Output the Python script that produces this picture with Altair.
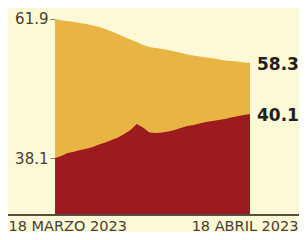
import altair as alt
import pandas as pd

# ---- data ----
dates = pd.date_range("2023-03-18", "2023-04-18", freq="D").strftime("%Y-%m-%dT00:00:00").tolist()

upper_series = [61.9, 61.78, 61.74, 61.65, 61.57, 61.49, 61.37, 61.24, 61.08, 60.87,
                60.67, 60.42, 60.22, 60.01, 59.77, 59.6, 59.52, 59.44, 59.36, 59.24,
                59.12, 58.99, 58.91, 58.83, 58.75, 58.67, 58.59, 58.5, 58.46, 58.42,
                58.33, 58.3]
lower_series = [38.1, 38.19, 38.33, 38.38, 38.46, 38.52, 38.6, 38.71, 38.8, 38.92,
                39.03, 39.19, 39.37, 39.65, 39.49, 39.26, 39.24, 39.26, 39.3, 39.37,
                39.46, 39.55, 39.6, 39.67, 39.74, 39.78, 39.83, 39.87, 39.94, 40.0,
                40.05, 40.1]

upper_ticks = [61.9]
lower_ticks = [38.1]
month_names = ["ENERO", "FEBRERO", "MARZO", "ABRIL", "MAYO", "JUNIO", "JULIO",
               "AGOSTO", "SEPTIEMBRE", "OCTUBRE", "NOVIEMBRE", "DICIEMBRE"]

df = pd.DataFrame({"date": dates, "upper": upper_series, "lower": lower_series})
last = df.iloc[[-1]]

FONT = "DejaVu Sans"
TXT = "#4a3c35"
YELLOW = "#e8b545"
RED = "#9c1b1f"
BG = "#fcf9d6"

month_js = "[" + ",".join("'" + m + "'" for m in month_names) + "]"
x_enc = alt.X(
    "date:T",
    title=None,
    axis=alt.Axis(
        values=[alt.DateTime(year=2023, month=3, date=18), alt.DateTime(year=2023, month=4, date=18)],
        labelExpr="date(datum.value) + ' ' + " + month_js + "[month(datum.value)] + ' ' + year(datum.value)",
        domain=False, ticks=False, tickSize=0, grid=False,
        labelFont=FONT, labelFontSize=14.5, labelColor=TXT,
        labelPadding=4, labelFlush=False,
        labelAlign={"condition": {"test": "datum.index < 0.5", "value": "left"}, "value": "right"},
        labelOffset={"condition": {"test": "datum.index < 0.5", "value": -47}, "value": 48},
    ),
)

def yaxis(vals):
    return alt.Axis(values=vals, format=".1f", title=None, domain=False, grid=False, orient="left",
                    tickSize=5, tickColor="#8a7d70", labelPadding=2, labelFlush=False,
                    labelFont=FONT, labelFontSize=15, labelColor=TXT)

base = alt.Chart(df)

up_area = base.mark_area(color=YELLOW, clip=True).encode(
    x=x_enc,
    y=alt.Y("upper:Q", scale=alt.Scale(domain=[45.83, 62.06], nice=False, zero=False), axis=yaxis(upper_ticks)),
)
up_text = alt.Chart(last).mark_text(align="left", baseline="middle", dx=7, dy=2,
                                    font=FONT, fontSize=17, fontWeight="bold", color="#231f20").encode(
    x="date:T", y="upper:Q", text=alt.Text("upper:Q", format=".1f"))

lo_area = base.mark_area(color=RED, clip=True).encode(
    x=x_enc,
    y=alt.Y("lower:Q", scale=alt.Scale(domain=[35.51, 44.51], nice=False, zero=False), axis=yaxis(lower_ticks)),
)
lo_text = alt.Chart(last).mark_text(align="left", baseline="middle", dx=7, dy=2,
                                    font=FONT, fontSize=17, fontWeight="bold", color="#231f20").encode(
    x="date:T", y="lower:Q", text=alt.Text("lower:Q", format=".1f"))

baseline_rule = alt.Chart(df).mark_rule(color="#5a4c42", strokeWidth=1.5).encode(
    x=alt.value(-48), x2=alt.value(244), y=alt.value(198))

chart = alt.layer(
    alt.layer(up_area, up_text),
    alt.layer(lo_area, lo_text),
    baseline_rule,
).resolve_scale(y="independent").properties(
    width=195, height=198,
    autosize=alt.AutoSizeParams(type="none"),
    padding={"left": 47, "top": 9, "right": 49, "bottom": 17},
    background=BG,
).configure_view(stroke=None)

chart.save("out.html", embed_options={"renderer": "svg", "actions": False})
